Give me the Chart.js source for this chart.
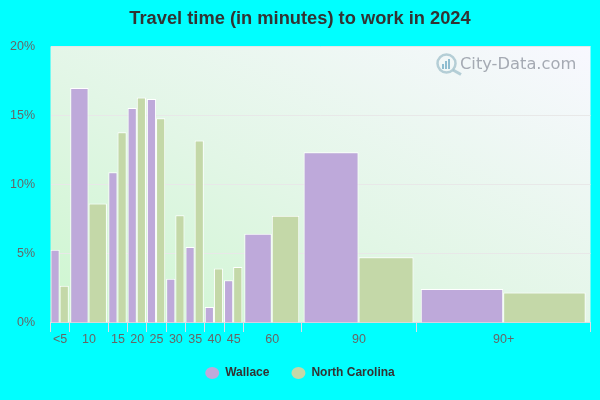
<!DOCTYPE html>
<html>
<head>
<meta charset="utf-8">
<style>
  html, body { margin: 0; padding: 0; background: #00ffff; }
  canvas { display: block; }
</style>
<script src="https://cdn.jsdelivr.net/npm/chart.js@4"></script>
</head>
<body>
<canvas id="c" width="600" height="400"></canvas>
<script>
"use strict";
const binLabels = ["<5", "10", "15", "20", "25", "30", "35", "40", "45", "60", "90", "90+"];
// the bins are not equal in width, edges are on a minutes-like scale
const binEdges = [0, 5, 15, 20, 25, 30, 35, 40, 45, 50, 65, 95, 140];
const wallace = [5.3, 17.0, 10.9, 15.55, 16.2, 3.2, 5.5, 1.15, 3.1, 6.45, 12.35, 2.45];
const northCarolina = [2.7, 8.65, 13.8, 16.3, 14.8, 7.8, 13.2, 3.95, 4.05, 7.75, 4.75, 2.2];
const yTicks = [0, 5, 10, 15, 20];

const FONT = "'Liberation Sans', Arial, sans-serif";
const mids = binLabels.map((_, i) => (binEdges[i] + binEdges[i + 1]) / 2);
const toPoints = vals => vals.map((v, i) => ({ x: mids[i], y: v }));

// bar controller whose bar width follows the bin it sits in
class HistBar extends Chart.BarController {
  _calculateBarIndexPixels(index, ruler) {
    const xs = this._cachedMeta.iScale;
    const l = xs.getPixelForValue(binEdges[index]), r = xs.getPixelForValue(binEdges[index + 1]);
    const w = (r - l) * 0.95 / 2, mid = (l + r) / 2 - 0.5;
    const side = this.index === 0 ? -1 : 1;
    return { base: mid + (side < 0 ? -w : 0), head: mid + (side < 0 ? 0 : w), center: mid + side * w / 2, size: w };
  }
}
HistBar.id = "histBar";
HistBar.defaults = Chart.BarController.defaults;
HistBar.overrides = Chart.BarController.overrides;
Chart.register(HistBar);

const plotBg = {
  id: "plotBg",
  beforeDraw(chart) {
    const { ctx, chartArea: a } = chart;
    const g = ctx.createLinearGradient(150, 370, 371, -65);
    g.addColorStop(0, "#cdf6cf");
    g.addColorStop(0.45, "#e2f6e6");
    g.addColorStop(1, "#f8f8ff");
    ctx.save();
    ctx.fillStyle = g;
    ctx.fillRect(a.left, a.top, a.right - a.left, a.bottom - a.top);
    ctx.restore();
  },
  afterDatasetsDraw(chart) {
    const { ctx } = chart;
    ctx.save();
    ctx.strokeStyle = "rgba(165,195,205,.8)";
    ctx.lineWidth = 2.5;
    ctx.beginPath(); ctx.arc(446.5, 63.5, 9, 0, Math.PI * 2); ctx.stroke();
    ctx.lineWidth = 3;
    ctx.beginPath(); ctx.moveTo(453, 70); ctx.lineTo(461, 74.5); ctx.stroke();
    ctx.fillStyle = "rgba(110,170,195,.75)";
    ctx.fillRect(442, 64, 2, 5); ctx.fillRect(445, 61, 2, 8); ctx.fillRect(448, 59, 2, 10);
    ctx.fillStyle = "rgba(160,165,175,.95)";
    ctx.font = "16.3px 'DejaVu Sans', sans-serif";
    ctx.textBaseline = "middle";
    ctx.fillText("City-Data.com", 460, 65);
    ctx.restore();
  }
};

new Chart(document.getElementById("c"), {
  type: "histBar",
  data: {
    datasets: [
      { label: "Wallace", data: toPoints(wallace), backgroundColor: "#bea9da", borderColor: "#fff", borderWidth: 1 },
      { label: "North Carolina", data: toPoints(northCarolina), backgroundColor: "#c4d8a8", borderColor: "#fff", borderWidth: 1 }
    ]
  },
  options: {
    responsive: false,
    animation: false,
    layout: { padding: { top: 8, right: 0, bottom: 11, left: 0 } },
    plugins: {
      tooltip: { enabled: false },
      title: {
        display: true, text: "Travel time (in minutes) to work in 2024",
        color: "#333", font: { family: FONT, size: 18.3, weight: "bold" },
        padding: { top: 0, bottom: 16.5 }
      },
      legend: {
        position: "bottom",
        labels: {
          usePointStyle: true, pointStyle: "circle", boxHeight: 8.5, pointStyleWidth: 14, padding: 22,
          color: "#333", font: { family: FONT, size: 12, weight: "bold" },
          generateLabels(chart) {
            return Chart.defaults.plugins.legend.labels.generateLabels(chart)
              .map(l => Object.assign(l, { strokeStyle: l.fillStyle, lineWidth: 0 }));
          }
        }
      }
    },
    scales: {
      x: {
        type: "linear", min: 0, max: 140, offset: false,
        afterBuildTicks(scale) {
          scale.ticks = binEdges.concat(mids).sort((a, b) => a - b).map(v => ({ value: v }));
        },
        afterFit(scale) { scale.height -= 2; },
        border: { color: "#dcdce6", width: 1 },
        grid: {
          offset: false, drawOnChartArea: false, tickLength: 9,
          tickColor: ctx => binEdges.includes(ctx.tick.value) ? "#dcdce6" : "rgba(0,0,0,0)"
        },
        ticks: {
          autoSkip: false, maxRotation: 0, minRotation: 0, padding: 0, color: "#666",
          font: { family: FONT, size: 12.5 },
          callback: v => { const i = mids.indexOf(v); return i < 0 ? "" : binLabels[i]; }
        }
      },
      y: {
        min: 0, max: 20,
        afterFit(scale) { scale.width = 50.5; },
        afterBuildTicks(scale) { scale.ticks = yTicks.map(v => ({ value: v })); },
        border: { display: false },
        grid: { color: "#e8e8e8", drawTicks: false },
        ticks: {
          padding: 15.5, color: "#666",
          font: { family: FONT, size: 12.5 },
          callback: v => v + "%"
        }
      },
      // empty axis, only keeps the right margin while title and legend stay centred on the page
      rightGap: {
        position: "right", min: 0, max: 1,
        afterFit(scale) { scale.width = 9.5; },
        grid: { display: false }, border: { display: false }, ticks: { display: false }
      }
    }
  },
  plugins: [plotBg]
});
</script>
</body>
</html>
